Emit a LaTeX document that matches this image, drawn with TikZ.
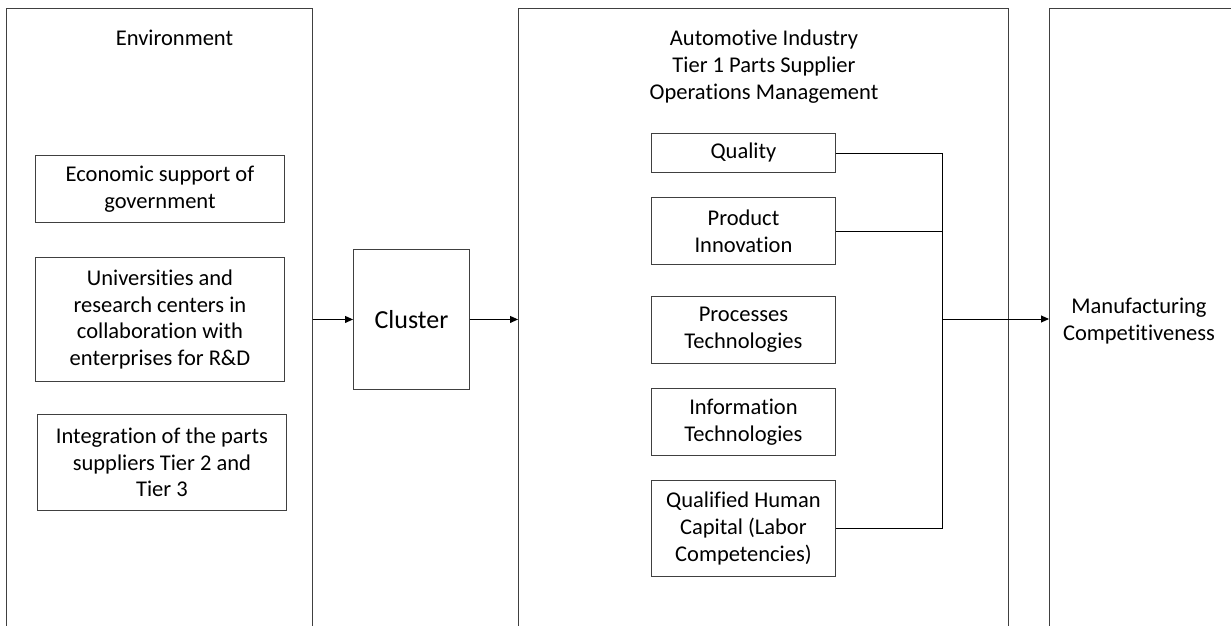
\documentclass[tikz,border=0pt]{standalone}
\usepackage{fontspec}
\setmainfont[Ligatures=NoCommon]{Carlito}
\usetikzlibrary{arrows.meta}
\begin{document}
\begin{tikzpicture}[x=1pt,y=-1pt,
  every node/.style={font=\fontsize{22.5}{26.7}\selectfont, text=black},
  panel/.style={draw=black!75, line width=0.9pt, anchor=north west, inner sep=0pt},
  factor/.style={draw=black!75, line width=0.9pt, anchor=north west, inner sep=0pt, align=center},
  label/.style={align=center, inner sep=0pt},
  link/.style={draw=black, line width=0.9pt},
  arr/.style={link, -{Triangle[length=8pt,width=7pt]}}]
\useasboundingbox (0,0) rectangle (1231,626);
\clip (0,0) rectangle (1231,626);
\fill[white] (0,0) rectangle (1231,626);

% three column panels, open at the bottom edge
\node[panel, minimum width=306pt, minimum height=700pt] (env) at (6,8) {};
\node[panel, minimum width=490pt, minimum height=700pt] (ops) at (518,8) {};
\node[panel, minimum width=300pt, minimum height=700pt] (mc) at (1049,8) {};

% panel headings
\node[label] (envt) at (174.5,38) {Environment};
\node[label] (opst) at (764,66.5) {Automotive Industry\\Tier 1 Parts Supplier\\Operations Management};
\node[label] (mct) at (1139,321) {Manufacturing\\Competitiveness};

% environment factors
\node[factor, minimum width=249pt, minimum height=67pt] (gov) at (35,155) {Economic support of\\government};
\node[factor, minimum width=249pt, minimum height=124pt] (uni) at (35,257) {Universities and\\research centers in\\collaboration with\\enterprises for R\&D};
\node[factor, minimum width=249pt, minimum height=96pt] (sup) at (37,414) {Integration of the parts\\suppliers Tier 2 and\\Tier 3};

% cluster
\node[factor, minimum width=116pt, minimum height=140pt, font=\fontsize{26}{30}\selectfont] (cl) at (353,249) {Cluster};

% operations management factors
\node[factor, minimum width=184pt, minimum height=39pt] (qual) at (651,133) {Quality};
\node[factor, minimum width=184pt, minimum height=67pt] (prod) at (651,197) {Product\\Innovation};
\node[factor, minimum width=184pt, minimum height=67pt] (proc) at (651,296) {Processes\\Technologies};
\node[factor, minimum width=184pt, minimum height=67pt] (info) at (651,388) {Information\\Technologies};
\node[factor, minimum width=184pt, minimum height=96pt] (hcap) at (651,480) {Qualified Human\\Capital (Labor\\Competencies)};

% flow between panels
\draw[arr] (cl.west -| env.east) -- (cl.west);
\draw[arr] (cl.east) -- (cl.east -| ops.west);

% merging connector towards competitiveness
\coordinate (bus) at (942,319);
\draw[link] (qual.east) -| (bus);
\draw[link] (prod.east) -- (prod.east -| bus);
\draw[link] (hcap.east) -| (bus);
\draw[arr] (bus) -- (bus -| mc.west);
\end{tikzpicture}
\end{document}
